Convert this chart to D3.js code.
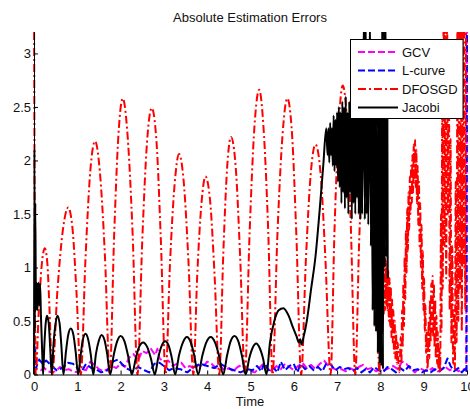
<!DOCTYPE html>
<html>
<head>
<meta charset="utf-8">
<script src="https://cdn.jsdelivr.net/npm/d3@7"></script>
<style>
  body { margin: 0; background: #fff; }
  svg text { font-family: "Liberation Sans", Arial, sans-serif; }
</style>
</head>
<body>
<svg id="chart" width="470" height="409"></svg>
<script>
// tick labels
const xTicks = [0, 1, 2, 3, 4, 5, 6, 7, 8, 9, 10];
const yTicks = [0, 0.5, 1, 1.5, 2, 2.5, 3];

// legend names, in plotting order
const seriesNames = ["GCV", "L-curve", "DFOSGD", "Jacobi"];

// [time, error]
const gcvData = [
  [0,0.02],[0.03,0.06],[0.1,0.05],[0.16,0.04],[0.24,0.06],[0.32,0.03],[0.4,0.02],[0.5,0.03],
  [0.6,0.07],[0.7,0.04],[0.8,0.05],[0.9,0.03],[1.0,0.02],[1.1,0.05],[1.2,0.04],[1.3,0.12],
  [1.4,0.09],[1.5,0.05],[1.6,0.03],[1.7,0.05],[1.8,0.08],[1.9,0.06],[2.0,0.1],[2.1,0.07],
  [2.2,0.16],[2.3,0.19],[2.4,0.13],[2.5,0.22],[2.6,0.2],[2.7,0.24],[2.8,0.18],[2.85,0.24],
  [2.9,0.15],[3.0,0.12],[3.1,0.13],[3.2,0.08],[3.3,0.1],[3.4,0.11],[3.5,0.06],[3.6,0.08],
  [3.7,0.05],[3.8,0.09],[3.9,0.07],[4.0,0.12],[4.1,0.1],[4.2,0.06],[4.3,0.08],[4.4,0.04],
  [4.5,0.06],[4.6,0.03],[4.7,0.07],[4.8,0.09],[4.9,0.04],[5.0,0.03],[5.1,0.02],[5.2,0.06],
  [5.3,0.1],[5.4,0.05],[5.5,0.03],[5.6,0.08],[5.7,0.05],[5.8,0.1],[5.9,0.07],[6.0,0.04],
  [6.1,0.08],[6.2,0.11],[6.3,0.06],[6.4,0.09],[6.5,0.05],[6.6,0.1],[6.7,0.13],[6.8,0.08],
  [6.9,0.06],[7.0,0.04],[7.1,0.05],[7.2,0.03],[7.3,0.06],[7.4,0.04],[7.5,0.07],[7.6,0.09],
  [7.7,0.05],[7.8,0.06],[7.9,0.03],[8.0,0.05],[8.1,0.04],[8.2,0.06],[8.3,0.08],[8.4,0.05],
  [8.5,0.12],[8.6,0.1],[8.7,0.05],[8.8,0.02],[8.9,0.06],[9.0,0.04],[9.1,0.03],[9.2,0.06],
  [9.3,0.02],[9.4,0.05],[9.5,0.07],[9.6,0.04],[9.7,0.06],[9.8,0.03],[9.9,0.05],[9.98,0.04],
  [10,3.5]
];

const lcurveData = [
  [0,0.02],[0.02,0.37],[0.04,0.05],[0.08,0.1],[0.12,0.14],[0.2,0.1],[0.28,0.13],[0.36,0.1],
  [0.44,0.07],[0.52,0.04],[0.6,0.05],[0.68,0.07],[0.78,0.11],[0.9,0.1],[1.0,0.06],[1.09,0.02],
  [1.2,0.1],[1.32,0.06],[1.43,0.05],[1.55,0.02],[1.7,0.04],[1.82,0.12],[1.94,0.14],[2.05,0.09],
  [2.17,0.05],[2.28,0.03],[2.4,0.07],[2.55,0.04],[2.66,0.02],[2.78,0.1],[2.9,0.11],[3.0,0.08],
  [3.12,0.04],[3.23,0.06],[3.38,0.05],[3.54,0.02],[3.69,0.07],[3.85,0.1],[4.0,0.08],[4.16,0.06],
  [4.31,0.1],[4.47,0.06],[4.62,0.04],[4.77,0.02],[4.93,0.05],[5.05,0.04],[5.15,0.08],[5.25,0.03],
  [5.32,0.11],[5.42,0.04],[5.52,0.07],[5.62,0.02],[5.7,0.12],[5.8,0.04],[5.9,0.08],[6.0,0.1],
  [6.08,0.02],[6.16,0.1],[6.26,0.05],[6.36,0.08],[6.46,0.04],[6.56,0.07],[6.66,0.03],[6.76,0.11],
  [6.86,0.09],[6.96,0.04],[7.06,0.07],[7.16,0.05],[7.26,0.06],[7.36,0.03],[7.46,0.06],[7.56,0.02],
  [7.66,0.05],[7.76,0.02],[7.86,0.07],[7.96,0.04],[8.06,0.02],[8.16,0.07],[8.26,0.05],[8.36,0.02],
  [8.46,0.06],[8.56,0.03],[8.66,0.08],[8.76,0.04],[8.86,0.05],[8.96,0.02],[9.06,0.04],[9.16,0.02],
  [9.26,0.05],[9.36,0.03],[9.46,0.06],[9.55,0.15],[9.62,0.08],[9.7,0.03],[9.8,0.06],[9.88,0.02],
  [9.95,0.05],[9.99,0.02],[10,3.5]
];

const dfosgdData = [
  [0,3.5],[0.04,0],
  [0.11,0.59],[0.18,1.03],[0.25,1.18],[0.31,1.03],[0.36,0.59],[0.42,0],
  [0.54,0.78],[0.67,1.36],[0.79,1.56],[0.89,1.36],[0.98,0.78],[1.08,0],
  [1.19,1.09],[1.30,1.90],[1.41,2.18],[1.52,1.90],[1.64,1.09],[1.75,0],
  [1.85,1.29],[1.95,2.24],[2.05,2.58],[2.16,2.24],[2.28,1.29],[2.39,0],
  [2.50,1.25],[2.61,2.17],[2.72,2.49],[2.83,2.17],[2.93,1.25],[3.04,0],
  [3.14,1.03],[3.25,1.79],[3.35,2.06],[3.46,1.79],[3.57,1.03],[3.68,0],
  [3.77,0.93],[3.87,1.61],[3.96,1.85],[4.07,1.61],[4.17,0.93],[4.28,0],
  [4.37,1.11],[4.46,1.93],[4.55,2.22],[4.66,1.93],[4.76,1.11],[4.87,0],
  [4.98,1.33],[5.09,2.31],[5.2,2.66],[5.3,2.31],[5.41,1.33],[5.51,0],
  [5.62,1.29],[5.74,2.24],[5.85,2.58],[5.96,2.24],[6.06,1.29],[6.17,0],
  [6.28,1.08],[6.39,1.87],[6.5,2.15],[6.62,1.87],[6.73,1.08],[6.85,0],
  [6.94,1.35],[7.04,2.35],[7.13,2.7],[7.23,2.35],[7.32,1.35],[7.42,0],
  [7.51,1.25],[7.61,2.17],[7.7,2.5],[7.79,2.17],[7.89,1.25],[7.98,0],
  // noisy tail
  [8.0,0.5],[8.015,0.15],[8.03,0.8],[8.045,0.4],[8.06,0.95],[8.075,0.55],[8.09,1.05],[8.105,0.6],
  [8.12,1.08],[8.135,0.65],[8.15,1.05],[8.165,0.6],[8.18,0.98],[8.195,0.5],[8.21,0.9],[8.225,0.45],
  [8.24,0.82],[8.255,0.35],[8.27,0.7],[8.285,0.3],[8.3,0.6],[8.315,0.2],[8.33,0.5],[8.345,0.15],
  [8.36,0.4],[8.38,0.1],[8.4,0.3],[8.42,0.05],[8.44,0.02],
  [8.47,0.35],[8.485,0.1],[8.5,0.6],[8.515,0.25],[8.53,0.85],[8.545,0.45],[8.56,1.1],[8.575,0.7],
  [8.59,1.35],[8.605,0.95],[8.62,1.55],[8.635,1.15],[8.65,1.7],[8.665,1.35],[8.68,1.85],[8.695,1.5],
  [8.71,1.95],[8.725,1.6],[8.74,2.05],[8.755,1.7],[8.77,2.15],[8.785,1.8],[8.8,2.19],[8.815,1.75],
  [8.83,2.1],[8.845,1.6],[8.86,1.95],[8.875,1.4],[8.89,1.8],[8.905,1.2],[8.92,1.6],[8.935,1.0],
  [8.95,1.4],[8.965,0.8],[8.98,1.15],[8.995,0.6],[9.01,0.9],[9.025,0.4],[9.04,0.65],[9.055,0.2],
  [9.07,0.4],[9.085,0.05],[9.1,0.15],
  [9.115,0.5],[9.13,0.15],[9.145,0.7],[9.16,0.3],[9.175,0.85],[9.19,0.4],[9.205,0.92],[9.22,0.35],
  [9.235,0.85],[9.25,0.25],[9.265,0.7],[9.28,0.15],[9.295,0.55],[9.31,0.1],[9.325,0.4],[9.34,0.05],
  [9.36,0.25],[9.38,0.02],
  [9.4,1.5],[9.41,0.4],[9.43,2.8],[9.44,0.8],[9.46,3.4],[9.48,1.2],[9.5,3.4],[9.52,0.9],
  [9.54,3.4],[9.56,1.5],[9.58,3.1],[9.6,0.6],[9.62,2.2],[9.64,0.3],[9.66,1.2],[9.68,0.1],
  [9.7,0.6],[9.72,0.05],
  [9.74,1.8],[9.76,0.3],[9.78,3.4],[9.8,0.5],[9.82,3.4],[9.84,0.8],[9.86,3.4],[9.88,0.4],
  [9.9,3.4],[9.92,1.0],[9.94,3.4],[9.96,0.6],[9.98,3.4],[10,3.4]
];

const jacobiData = [
  [0,0],[0.01,2.1],[0.02,0.4],[0.03,1.6],[0.045,0.6],[0.06,0.86],[0.08,0.6],[0.1,0.86],
  [0.12,0.65],[0.14,0.85],[0.16,0.55],[0.19,0.2],[0.21,0],
  [0.24,0.28],[0.27,0.48],[0.3,0.55],[0.34,0.48],[0.37,0.28],[0.41,0],
  [0.45,0.28],[0.5,0.48],[0.54,0.55],[0.59,0.48],[0.63,0.28],[0.68,0],
  [0.74,0.22],[0.79,0.37],[0.85,0.43],[0.91,0.37],[0.96,0.22],[1.02,0],
  [1.08,0.19],[1.13,0.33],[1.19,0.38],[1.25,0.33],[1.31,0.19],[1.37,0],
  [1.43,0.19],[1.5,0.32],[1.56,0.37],[1.63,0.32],[1.69,0.19],[1.76,0],
  [1.84,0.18],[1.92,0.31],[2.0,0.36],[2.09,0.31],[2.17,0.18],[2.26,0],
  [2.35,0.15],[2.43,0.26],[2.52,0.3],[2.61,0.26],[2.7,0.15],[2.79,0],
  [2.87,0.16],[2.95,0.27],[3.03,0.31],[3.11,0.27],[3.18,0.16],[3.26,0],
  [3.35,0.18],[3.44,0.3],[3.53,0.35],[3.62,0.3],[3.7,0.18],[3.79,0],
  [3.89,0.18],[3.98,0.3],[4.08,0.35],[4.18,0.3],[4.27,0.18],[4.37,0],
  [4.46,0.18],[4.54,0.31],[4.63,0.36],[4.72,0.31],[4.8,0.18],[4.89,0],
  [4.97,0.15],[5.05,0.25],[5.13,0.29],[5.21,0.25],[5.29,0.15],[5.37,0],
  [5.45,0.3],[5.55,0.5],[5.65,0.6],[5.76,0.62],[5.88,0.55],[5.98,0.44],[6.06,0.36],
  [6.12,0.3],[6.15,0.33],[6.18,0.28],[6.22,0.34],[6.3,0.5],[6.4,0.8],[6.5,1.1],[6.6,1.55],
  [6.68,1.95],[6.75,2.3],
  // noisy band
  [6.78,2.05],[6.8,2.3],[6.82,1.98],[6.84,2.35],[6.86,2.05],[6.88,2.3],[6.9,1.95],[6.92,2.42],
  [6.94,1.9],[6.96,2.38],[6.98,1.95],[7.0,2.45],[7.02,1.8],[7.04,2.5],[7.06,1.75],[7.08,2.45],
  [7.1,1.6],[7.12,2.55],[7.14,1.7],[7.16,2.5],[7.18,1.55],[7.2,2.6],[7.22,1.65],[7.24,2.45],
  [7.26,1.5],[7.28,2.55],[7.3,1.7],[7.32,2.5],[7.34,1.45],[7.36,2.6],[7.38,1.6],[7.4,2.5],
  [7.42,1.5],[7.44,2.58],[7.46,1.65],[7.48,2.45],[7.5,1.5],[7.52,2.55],[7.54,1.45],[7.56,2.5],
  [7.58,1.5],[7.62,3.4],[7.64,1.45],[7.66,3.4],[7.68,1.5],[7.7,2.6],[7.72,1.4],[7.76,3.4],
  [7.78,1.2],[7.8,2.5],[7.82,0.6],[7.84,2.4],[7.86,0.45],[7.88,2.5],[7.9,0.4],[7.92,2.45],
  [7.94,0.2],[7.96,2.5],[7.98,0.1],[8.0,2.4],[8.02,0.08],[8.04,3.4],[8.06,0.05],[8.08,3.4],
  [8.1,1.0],[8.12,3.4],[8.14,1.1],[8.16,2.6],[8.17,0.9]
];

const colors = ["#ff00ff", "#0000ff", "#ff0000", "#000000"];
const dashes = ["7,3", "7,3", "8,3,2,3", null];
const allSeries = [gcvData, lcurveData, dfosgdData, jacobiData];

const svg = d3.select("#chart");

let plotLeft = 34, plotRight = 467, plotTop = 32, plotBottom = 374.5;

let xScale = d3.scaleLinear().domain([0, 10]).range([plotLeft, plotRight]);
let yScale = d3.scaleLinear().domain([0, 3.2]).range([plotBottom, plotTop]);

svg.append("defs").append("clipPath").attr("id", "plotClip")
   .append("rect")
   .attr("x", plotLeft - 1).attr("y", plotTop)
   .attr("width", plotRight - plotLeft + 4).attr("height", plotBottom - plotTop + 1);

// lines
let line = d3.line()
             .x(d => xScale(d[0]))
             .y(d => yScale(d[1]));

let plot = svg.append("g").attr("clip-path", "url(#plotClip)");

allSeries.forEach((data, i) => {
    plot.append("path")
        .datum(data)
        .attr("d", line.curve(i < 2 ? d3.curveLinear : d3.curveMonotoneX))
        .attr("fill", "none")
        .attr("stroke", colors[i])
        .attr("stroke-width", 2)
        .attr("stroke-dasharray", dashes[i])
        .attr("stroke-linejoin", "round");
});

// axes, ticks pointing inwards
let xAxis = svg.append("g")
   .attr("transform", "translate(0," + plotBottom + ")")
   .call(d3.axisBottom(xScale).tickValues(xTicks).tickFormat(d => String(d))
         .tickSizeInner(-4).tickSizeOuter(0).tickPadding(7));

let yAxis = svg.append("g")
   .attr("transform", "translate(" + plotLeft + ",0)")
   .call(d3.axisLeft(yScale).tickValues(yTicks).tickFormat(d => String(d))
         .tickSizeInner(-4).tickSizeOuter(0).tickPadding(3));

[xAxis, yAxis].forEach(g => {
    g.selectAll("text").attr("font-size", 13).attr("fill", "#111")
     .attr("font-family", "Liberation Sans, Arial, sans-serif");
    g.selectAll("line").attr("stroke", "#000");
    g.select(".domain").attr("stroke", "#000");
});

// title and label
svg.append("text")
   .attr("x", 250).attr("y", 22)
   .attr("text-anchor", "middle")
   .attr("font-size", 13)
   .attr("fill", "#111")
   .text("Absolute Estimation Errors");

svg.append("text")
   .attr("x", 250).attr("y", 406)
   .attr("text-anchor", "middle")
   .attr("font-size", 13)
   .attr("fill", "#111")
   .text("Time");

// legend
let legend = svg.append("g");
legend.append("rect")
      .attr("x", 350.5).attr("y", 39.5)
      .attr("width", 112.5).attr("height", 79)
      .attr("fill", "#fff")
      .attr("stroke", "#000");

let rowY = d3.scalePoint().domain(seriesNames).range([52, 107.5]);

seriesNames.forEach((name, i) => {
    legend.append("line")
          .attr("x1", 358).attr("x2", 398)
          .attr("y1", rowY(name)).attr("y2", rowY(name))
          .attr("stroke", colors[i])
          .attr("stroke-width", 2)
          .attr("stroke-dasharray", dashes[i]);
    legend.append("text")
          .attr("x", 402).attr("y", rowY(name))
          .attr("dy", "0.35em")
          .attr("font-size", 13)
          .attr("fill", "#111")
          .text(name);
});
</script>
</body>
</html>
